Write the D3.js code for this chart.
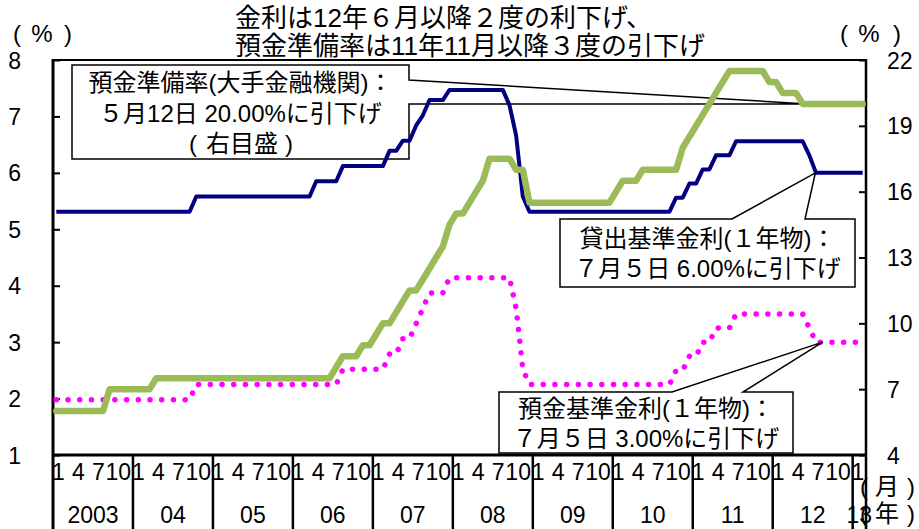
<!DOCTYPE html>
<html><head><meta charset="utf-8">
<script src="https://cdn.jsdelivr.net/npm/d3@7/dist/d3.min.js"></script>
<style>body{margin:0;background:#fff}svg{display:block}</style>
</head><body>
<svg id="c" width="919" height="529"></svg>
<script>
// ---- data (monthly, Jan 2003 – Feb 2013) ----
// 貸出基準金利（1年物）, % (left axis)
const lendingRate = [
  5.31,5.31,5.31,5.31,5.31,5.31,5.31,5.31,5.31,5.31,5.31,5.31,   // 2003
  5.31,5.31,5.31,5.31,5.31,5.31,5.31,5.31,5.31,5.58,5.58,5.58,   // 2004
  5.58,5.58,5.58,5.58,5.58,5.58,5.58,5.58,5.58,5.58,5.58,5.58,   // 2005
  5.58,5.58,5.58,5.85,5.85,5.85,5.85,6.12,6.12,6.12,6.12,6.12,   // 2006
  6.12,6.12,6.39,6.39,6.57,6.57,6.84,7.02,7.29,7.29,7.29,7.47,   // 2007
  7.47,7.47,7.47,7.47,7.47,7.47,7.47,7.47,7.20,6.66,5.58,5.31,   // 2008
  5.31,5.31,5.31,5.31,5.31,5.31,5.31,5.31,5.31,5.31,5.31,5.31,   // 2009
  5.31,5.31,5.31,5.31,5.31,5.31,5.31,5.31,5.31,5.56,5.56,5.81,   // 2010
  5.81,6.06,6.06,6.31,6.31,6.31,6.56,6.56,6.56,6.56,6.56,6.56,   // 2011
  6.56,6.56,6.56,6.56,6.56,6.31,6.00,6.00,6.00,6.00,6.00,6.00,   // 2012
  6.00,6.00                                                      // 2013
];
// 預金基準金利（1年物）, % (left axis)
const depositRate = [
  1.98,1.98,1.98,1.98,1.98,1.98,1.98,1.98,1.98,1.98,1.98,1.98,
  1.98,1.98,1.98,1.98,1.98,1.98,1.98,1.98,1.98,2.25,2.25,2.25,
  2.25,2.25,2.25,2.25,2.25,2.25,2.25,2.25,2.25,2.25,2.25,2.25,
  2.25,2.25,2.25,2.25,2.25,2.25,2.25,2.52,2.52,2.52,2.52,2.52,
  2.52,2.52,2.79,2.79,3.06,3.06,3.33,3.60,3.87,3.87,3.87,4.14,
  4.14,4.14,4.14,4.14,4.14,4.14,4.14,4.14,4.14,3.60,2.52,2.25,
  2.25,2.25,2.25,2.25,2.25,2.25,2.25,2.25,2.25,2.25,2.25,2.25,
  2.25,2.25,2.25,2.25,2.25,2.25,2.25,2.25,2.25,2.50,2.50,2.75,
  2.75,3.00,3.00,3.25,3.25,3.25,3.50,3.50,3.50,3.50,3.50,3.50,
  3.50,3.50,3.50,3.50,3.50,3.25,3.00,3.00,3.00,3.00,3.00,3.00,
  3.00,3.00
];
// 預金準備率（大手金融機関）, % (right axis)
const reserveRatio = [
  6,6,6,6,6,6,6,6,7,7,7,7,
  7,7,7,7.5,7.5,7.5,7.5,7.5,7.5,7.5,7.5,7.5,
  7.5,7.5,7.5,7.5,7.5,7.5,7.5,7.5,7.5,7.5,7.5,7.5,
  7.5,7.5,7.5,7.5,7.5,7.5,8,8.5,8.5,8.5,9,9,
  9.5,10,10,10.5,11,11.5,11.5,12,12.5,13,13.5,14.5,
  15,15,15.5,16,16.5,17.5,17.5,17.5,17.5,17,17,15.5,
  15.5,15.5,15.5,15.5,15.5,15.5,15.5,15.5,15.5,15.5,15.5,15.5,
  16,16.5,16.5,16.5,17,17,17,17,17,17,18,18.5,
  19,19.5,20,20.5,21,21.5,21.5,21.5,21.5,21.5,21.5,21,
  21,20.5,20.5,20.5,20,20,20,20,20,20,20,20,
  20,20
];
const yearLabels = ["2003","04","05","06","07","08","09","10","11","12","13"];
const monthTickLabels = ["1","4","7","10"];
const monthTickIndex = [0,3,6,9];
const leftTicks = [1,2,3,4,5,6,7,8];
const rightTicks = [4,7,10,13,16,19,22];
const titleLines = ["金利は12年６月以降２度の利下げ、","預金準備率は11年11月以降３度の引下げ"];
const callout1 = ["預金準備率(大手金融機関)：","５月12日 20.00%に引下げ"];
const callout1Note = ["(","右目盛",")"];
const callout2 = ["貸出基準金利(１年物)：","７月５日 6.00%に引下げ"];
const callout3 = ["預金基準金利(１年物)：","７月５日 3.00%に引下げ"];
const unitPct = ["(","%",")"];
const unitMonth = ["(","月",")"];
const unitYear = ["(","年",")"];

// ---- layout ----
const W=919,H=529,L=53,R=866,T=60,B=455;
const FONT = "'Liberation Sans','Noto Sans CJK JP',sans-serif";
const NAVY="#000080", GREEN="#9BBB59", MAG="#FF00FF";
const svg = d3.select("#c").style("font-family",FONT);
const n = lendingRate.length;
const xl = d3.scaleLinear().domain([0,n]).range([L,R]);
const xc = i => xl(i+0.5);
const yL = d3.scaleLinear().domain([1,8]).range([B,T]);
const yR = d3.scaleLinear().domain([4,22]).range([B,T]);

// spaced bracket label: parts drawn at given centres
function spaced(parent, parts, xs, y, size){
  parent.append("g").selectAll("text").data(parts).join("text")
    .attr("x",(d,i)=>xs[i]).attr("y",y).attr("text-anchor","middle")
    .attr("dominant-baseline","central").attr("font-size",size).text(d=>d);
}

// title
svg.append("g").selectAll("text").data(titleLines).join("text")
  .attr("x",235).attr("y",(d,i)=>18+i*28).attr("dominant-baseline","central")
  .attr("font-size",26).attr("fill","#000").text(d=>d);
spaced(svg, unitPct, [17,42,68], 33, 24);
spaced(svg, unitPct, [844,869,897], 33, 24);

// frame top
svg.append("line").attr("x1",L).attr("x2",R).attr("y1",T).attr("y2",T)
  .attr("stroke","#000").attr("stroke-width",2);

function callout(g, box, gap, tip, lines, lineY){
  const [x0,y0,x1,y1] = box;
  let p;
  if (gap.side==="right") p = `M${x0},${y0}H${x1}V${gap.a}L${tip[0]},${tip[1]}L${x1},${gap.b}V${y1}H${x0}Z`;
  else p = `M${x0},${y0}H${gap.a}L${tip[0]},${tip[1]}L${gap.b},${y0}H${x1}V${y1}H${x0}Z`;
  g.append("path").attr("d",p).attr("fill","#fff").attr("stroke","#000").attr("stroke-width",1.5);
  g.selectAll("text.t").data(lines).join("text").attr("class","t")
    .attr("x",(x0+x1)/2).attr("y",(d,i)=>lineY[i]).attr("text-anchor","middle")
    .attr("dominant-baseline","central").attr("font-size",24).text(d=>d);
  return g;
}
// callout 1 (under series)
const g1 = callout(svg.append("g"),[72,65,409,159],{side:"right",a:80,b:104},[xl(113.2),yR(20)],callout1,[82,113]);
spaced(g1, callout1Note, [193,242,289], 143, 24);

// axes
const axL = svg.append("g").attr("transform",`translate(${L},0)`)
  .call(d3.axisLeft(yL).tickValues(leftTicks).tickSize(-7).tickPadding(32).tickFormat(d3.format("d")));
axL.select(".domain").remove();
axL.selectAll("line").attr("stroke","#000").attr("stroke-width",2);
axL.selectAll("text").attr("font-size",23).attr("font-family",FONT).attr("fill","#000").attr("dy","0.35em");
const axR = svg.append("g").attr("transform",`translate(${R},0)`)
  .call(d3.axisRight(yR).tickValues(rightTicks).tickSize(-7).tickPadding(21).tickFormat(d3.format("d")));
axR.select(".domain").remove();
axR.selectAll("line").attr("stroke","#000").attr("stroke-width",2);
axR.selectAll("text").attr("font-size",23).attr("font-family",FONT).attr("fill","#000").attr("dy","0.35em");

// axis lines
svg.append("line").attr("x1",L).attr("x2",L).attr("y1",T-1).attr("y2",H).attr("stroke","#000").attr("stroke-width",3);
svg.append("line").attr("x1",R).attr("x2",R).attr("y1",T-1).attr("y2",H).attr("stroke","#000").attr("stroke-width",2.5);
svg.append("line").attr("x1",L).attr("x2",R).attr("y1",B).attr("y2",B).attr("stroke","#000").attr("stroke-width",3);

// year separators and labels
const years = yearLabels.map((lab,k)=>({lab, start:k*12, end:Math.min(n,(k+1)*12)}));
svg.append("g").selectAll("line").data(years.slice(1)).join("line")
  .attr("x1",d=>xl(d.start)).attr("x2",d=>xl(d.start)).attr("y1",B).attr("y2",H)
  .attr("stroke","#000").attr("stroke-width",2.5);
svg.append("g").selectAll("text").data(years).join("text")
  .attr("x",d=>(xl(d.start)+xl(d.end))/2).attr("y",515).attr("text-anchor","middle")
  .attr("dominant-baseline","central").attr("font-size",23).text(d=>d.lab);
const mt = [];
years.forEach(y=>monthTickIndex.forEach((m,j)=>{ if (y.start+m<n) mt.push({i:y.start+m, lab:monthTickLabels[j]}); }));
svg.append("g").selectAll("text").data(mt).join("text")
  .attr("x",d=>xc(d.i)+2).attr("y",472).attr("text-anchor","middle")
  .attr("dominant-baseline","central").attr("font-size",23).text(d=>d.lab);
spaced(svg, unitMonth, [864,887,911], 486, 24);
spaced(svg, unitYear, [864,887,911], 513, 24);

// series
const lineL = d3.line().x((d,i)=>xc(i)).y(d=>yL(d));
const lineR = d3.line().x((d,i)=>xc(i)).y(d=>yR(d));
svg.append("path").attr("d",lineL(depositRate)).attr("fill","none").attr("stroke",MAG)
  .attr("stroke-width",5.5).attr("stroke-linecap","round").attr("stroke-dasharray","0.01 11.7");
svg.append("path").attr("d",lineL(lendingRate)).attr("fill","none").attr("stroke",NAVY)
  .attr("stroke-width",4).attr("stroke-linejoin","round");
svg.append("path").attr("d",lineR(reserveRatio)).attr("fill","none").attr("stroke",GREEN)
  .attr("stroke-width",6.5).attr("stroke-linejoin","round").attr("stroke-linecap","round");

// callouts 2, 3
callout(svg.append("g"),[560,219,855,287],{side:"top",a:732,b:805},[xl(114.4),yL(6.0)],callout2,[238,268]);
callout(svg.append("g"),[499,392,793,453],{side:"top",a:672,b:743},[xl(115.5),yL(3.0)],callout3,[408,438]);
</script>
</body></html>
